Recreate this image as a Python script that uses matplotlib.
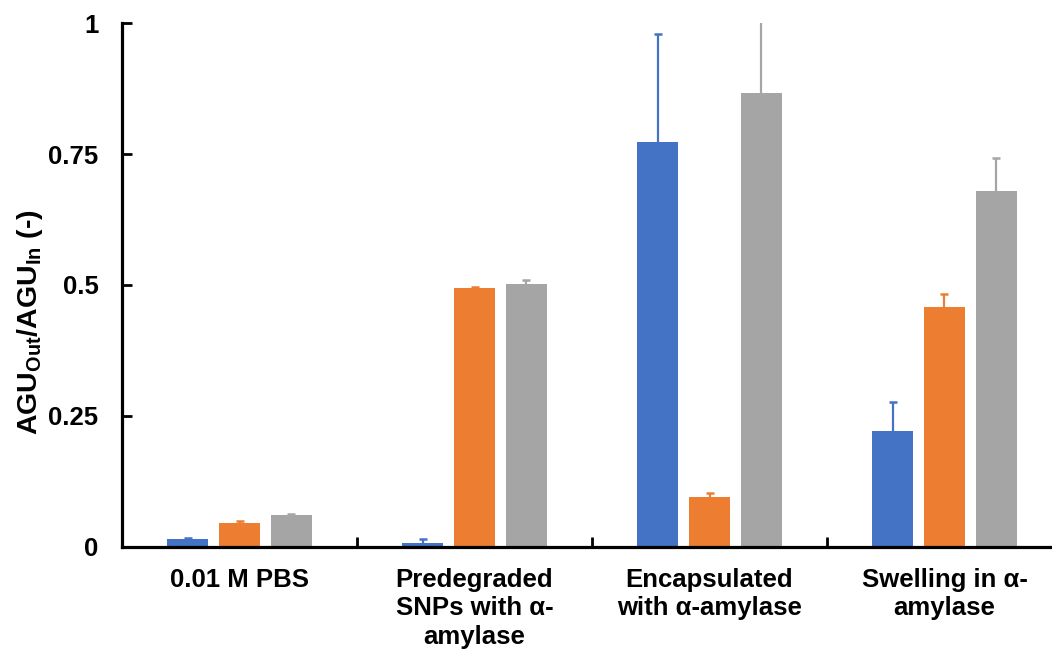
import matplotlib.pyplot as plt
import numpy as np

plt.rcParams['font.family'] = ['Liberation Sans', 'DejaVu Sans']
plt.rcParams['font.weight'] = 'bold'
plt.rcParams['mathtext.fontset'] = 'custom'
plt.rcParams['mathtext.rm'] = 'Liberation Sans:bold'
plt.rcParams['mathtext.bf'] = 'Liberation Sans:bold'

categories = [
    '0.01 M PBS',
    'Predegraded\nSNPs with α-\namylase',
    'Encapsulated\nwith α-amylase',
    'Swelling in α-\namylase',
]

# mean ratio per condition, and the upper error (only the + side is drawn)
series_1 = [0.014, 0.008, 0.773, 0.2205]
series_1_err = [0.002, 0.0075, 0.206, 0.0565]
series_2 = [0.045, 0.4935, 0.094, 0.458]
series_2_err = [0.004, 0.003, 0.0095, 0.024]
series_3 = [0.060, 0.5025, 0.867, 0.679]
series_3_err = [0.003, 0.007, 0.14, 0.063]

colors = ['#4472C4', '#ED7D31', '#A5A5A5']

fig = plt.figure(figsize=(10.52, 6.52), dpi=100)
ax = fig.add_axes([0.116, 0.1615, 0.8935, 0.8028])

x = np.arange(len(categories))
width = 0.175
step = 0.22
series = [(series_1, series_1_err), (series_2, series_2_err), (series_3, series_3_err)]
for i, (vals, err) in enumerate(series):
    pos = x + (i - 1) * step
    ax.bar(pos, vals, width=width, color=colors[i], zorder=2)
    _, caps, _ = ax.errorbar(pos, vals, yerr=[np.zeros(len(err)), err],
                             fmt='none', ecolor=colors[i], elinewidth=1.6,
                             capsize=3.2, capthick=1.8, zorder=3)
    # only keep the cap on the upper end
    caps[0].set_visible(False)

ax.set_xlim(-0.5, 3.5)
ax.set_ylim(0, 1)
ax.set_yticks([0, 0.25, 0.5, 0.75, 1])
ax.set_yticklabels(['0', '0.25', '0.5', '0.75', '1'])

# group separators as major ticks, category names on minor ticks
ax.set_xticks([0.5, 1.5, 2.5])
ax.set_xticklabels([])
ax.set_xticks(x, minor=True)
ax.set_xticklabels(categories, minor=True, fontsize=18.5, fontweight='bold',
                   linespacing=1.25, va='top')
ax.tick_params(axis='x', which='major', direction='in', length=7, width=2)
ax.tick_params(axis='x', which='minor', length=0, pad=15)
ax.tick_params(axis='y', direction='in', length=7, width=2, labelsize=18.5,
               pad=17)
for lab in ax.get_yticklabels():
    lab.set_fontweight('bold')

for side in ['top', 'right']:
    ax.spines[side].set_visible(False)
for side in ['left', 'bottom']:
    ax.spines[side].set_linewidth(2.3)

ax.set_ylabel(r'AGU$_{\mathrm{Out}}$/AGU$_{\mathrm{In}}$ (-)', fontsize=20.5,
              fontweight='bold')
ax.yaxis.set_label_coords(-0.082, 0.429)

fig.savefig('out.png', dpi=100)
